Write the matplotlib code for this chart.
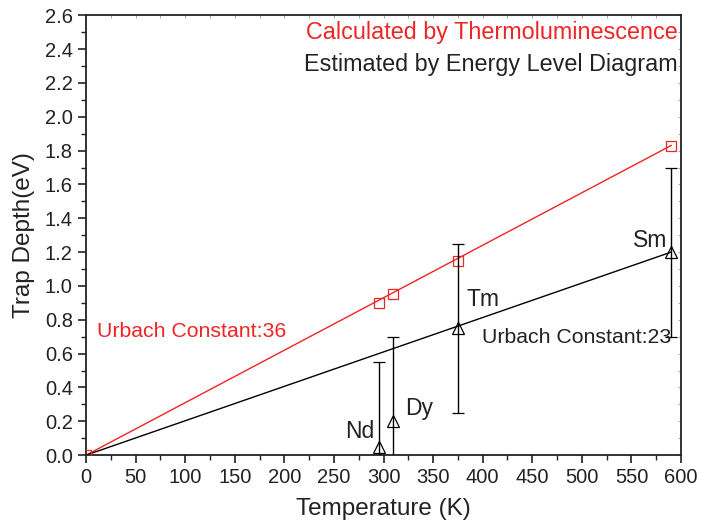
import matplotlib
matplotlib.use("Agg")
import matplotlib.pyplot as plt
from matplotlib.ticker import MultipleLocator

plt.rcParams['font.family'] = ['Liberation Sans', 'DejaVu Sans']

# data
elements = ["Nd", "Dy", "Tm", "Sm"]
temps = [295, 310, 375, 590]
tl_depth = [0.9, 0.95, 1.15, 1.83]        # thermoluminescence
eld_depth = [0.05, 0.2, 0.75, 1.2]        # energy level diagram
eld_err = [0.5, 0.5, 0.5, 0.5]

# linear fits through origin
fit_x = [0, 590]
tl_fit = [0, 1.83]
eld_fit = [0, 1.2]

red = '#ee2525'
ink = '#222222'

fig = plt.figure(figsize=(7.05, 5.25), dpi=100)
ax = fig.add_axes([0.122, 0.133, 0.844, 0.838])

ax.plot(fit_x, tl_fit, color=red, lw=1.0, zorder=2)
ax.plot(fit_x, eld_fit, color='black', lw=1.0, zorder=2)

ax.plot([0] + temps, [0] + tl_depth, ls='none', marker='s', ms=7, mfc='none',
        mec=red, mew=0.9, zorder=3)
ax.errorbar(temps, eld_depth, yerr=eld_err, fmt='^', ms=9, mfc='none', mec='black',
            mew=0.9, ecolor='black', elinewidth=1.0, capsize=4, capthick=1.0, zorder=3)

# element labels (baseline positions)
label_pos = [(291, 0.10), (322, 0.236), (384, 0.88), (586, 1.23)]
label_ha = ['right', 'left', 'left', 'right']
for name, (lx, ly), ha in zip(elements, label_pos, label_ha):
    ax.text(lx, ly, name, fontsize=16.5, ha=ha, va='baseline', color=ink)

ax.text(11, 0.697, "Urbach Constant:36", color=red, fontsize=15.3, va='baseline')
ax.text(399, 0.66, "Urbach Constant:23", color=ink, fontsize=15.3, va='baseline')

ax.text(597, 2.458, "Calculated by Thermoluminescence", color=red, fontsize=16.8,
        ha='right', va='baseline')
ax.text(597, 2.27, "Estimated by Energy Level Diagram", color=ink, fontsize=16.8,
        ha='right', va='baseline')

ax.set_xlim(0, 600)
ax.set_ylim(0, 2.6)
ax.xaxis.set_major_locator(MultipleLocator(50))
ax.xaxis.set_minor_locator(MultipleLocator(25))
ax.yaxis.set_major_locator(MultipleLocator(0.2))
ax.yaxis.set_minor_locator(MultipleLocator(0.1))
ax.yaxis.set_major_formatter(plt.FormatStrFormatter('%.1f'))

ax.tick_params(which='major', direction='out', length=6, width=1.2, labelsize=14.5,
               colors=ink)
ax.tick_params(which='minor', direction='out', length=3.5, width=1.0, colors=ink)
# faint inner ticks on the top and right spines
ax2 = ax.secondary_xaxis('top')
ax2.xaxis.set_major_locator(MultipleLocator(25))
ax2.tick_params(direction='in', length=2, width=0.6, colors='#999999', labeltop=False)
ax2.spines['top'].set_visible(False)
ax3 = ax.secondary_yaxis('right')
ax3.yaxis.set_major_locator(MultipleLocator(0.1))
ax3.tick_params(direction='in', length=2, width=0.6, colors='#999999', labelright=False)
ax3.spines['right'].set_visible(False)

for s in ax.spines.values():
    s.set_linewidth(1.3)
    s.set_color(ink)

ax.set_xlabel("Temperature (K)", fontsize=17.5, color=ink, labelpad=8)
ax.set_ylabel("Trap Depth(eV)", fontsize=17.5, color=ink, labelpad=7)

fig.savefig("out.png", dpi=100)
